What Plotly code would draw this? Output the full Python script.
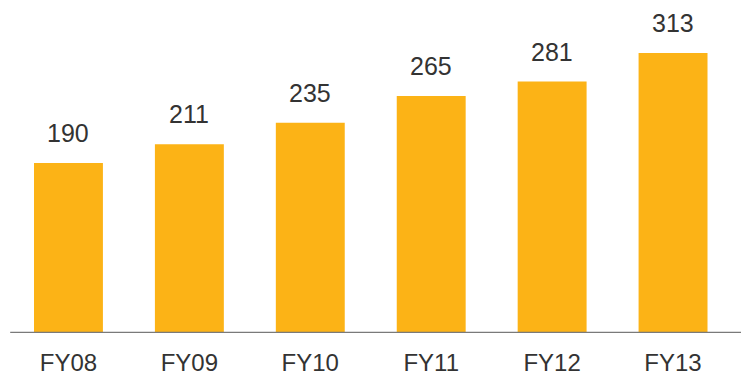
import plotly.graph_objects as go

categories = ["FY08", "FY09", "FY10", "FY11", "FY12", "FY13"]
values = [190, 211, 235, 265, 281, 313]

BAR_COLOR = "#FCB316"
TEXT_COLOR = "#333333"
FONT = "Liberation Sans, Arial, sans-serif"

fig = go.Figure()
fig.add_trace(go.Bar(
    x=categories, y=values,
    marker=dict(color=BAR_COLOR, line=dict(width=0)),
    width=0.57,
    hoverinfo="x+y",
))

for c, v in zip(categories, values):
    fig.add_annotation(
        x=c, y=v, text=str(v), showarrow=False,
        yanchor="bottom", yshift=14,
        font=dict(family=FONT, size=25, color=TEXT_COLOR),
    )

fig.update_layout(
    width=741, height=378,
    margin=dict(l=8, r=0, t=0, b=45),
    paper_bgcolor="white", plot_bgcolor="white",
    showlegend=False,
    bargap=0.43,
    xaxis=dict(
        range=[-0.5, 5.562],
        automargin=False,
        showgrid=False, zeroline=False,
        showline=False,
        ticks="outside", ticklen=8, tickcolor="rgba(0,0,0,0)",
        tickfont=dict(family=FONT, size=24, color=TEXT_COLOR),
    ),
    yaxis=dict(
        range=[0, 372.2],
        automargin=False,
        showgrid=False, zeroline=False, showline=False,
        showticklabels=False, ticks="",
    ),
)

# baseline
fig.add_shape(type="line", xref="paper", yref="y", x0=0.003, x1=1.02, y0=0, y1=0,
              line=dict(color="#7a7a7a", width=2.5))

fig.write_html("out.html")
